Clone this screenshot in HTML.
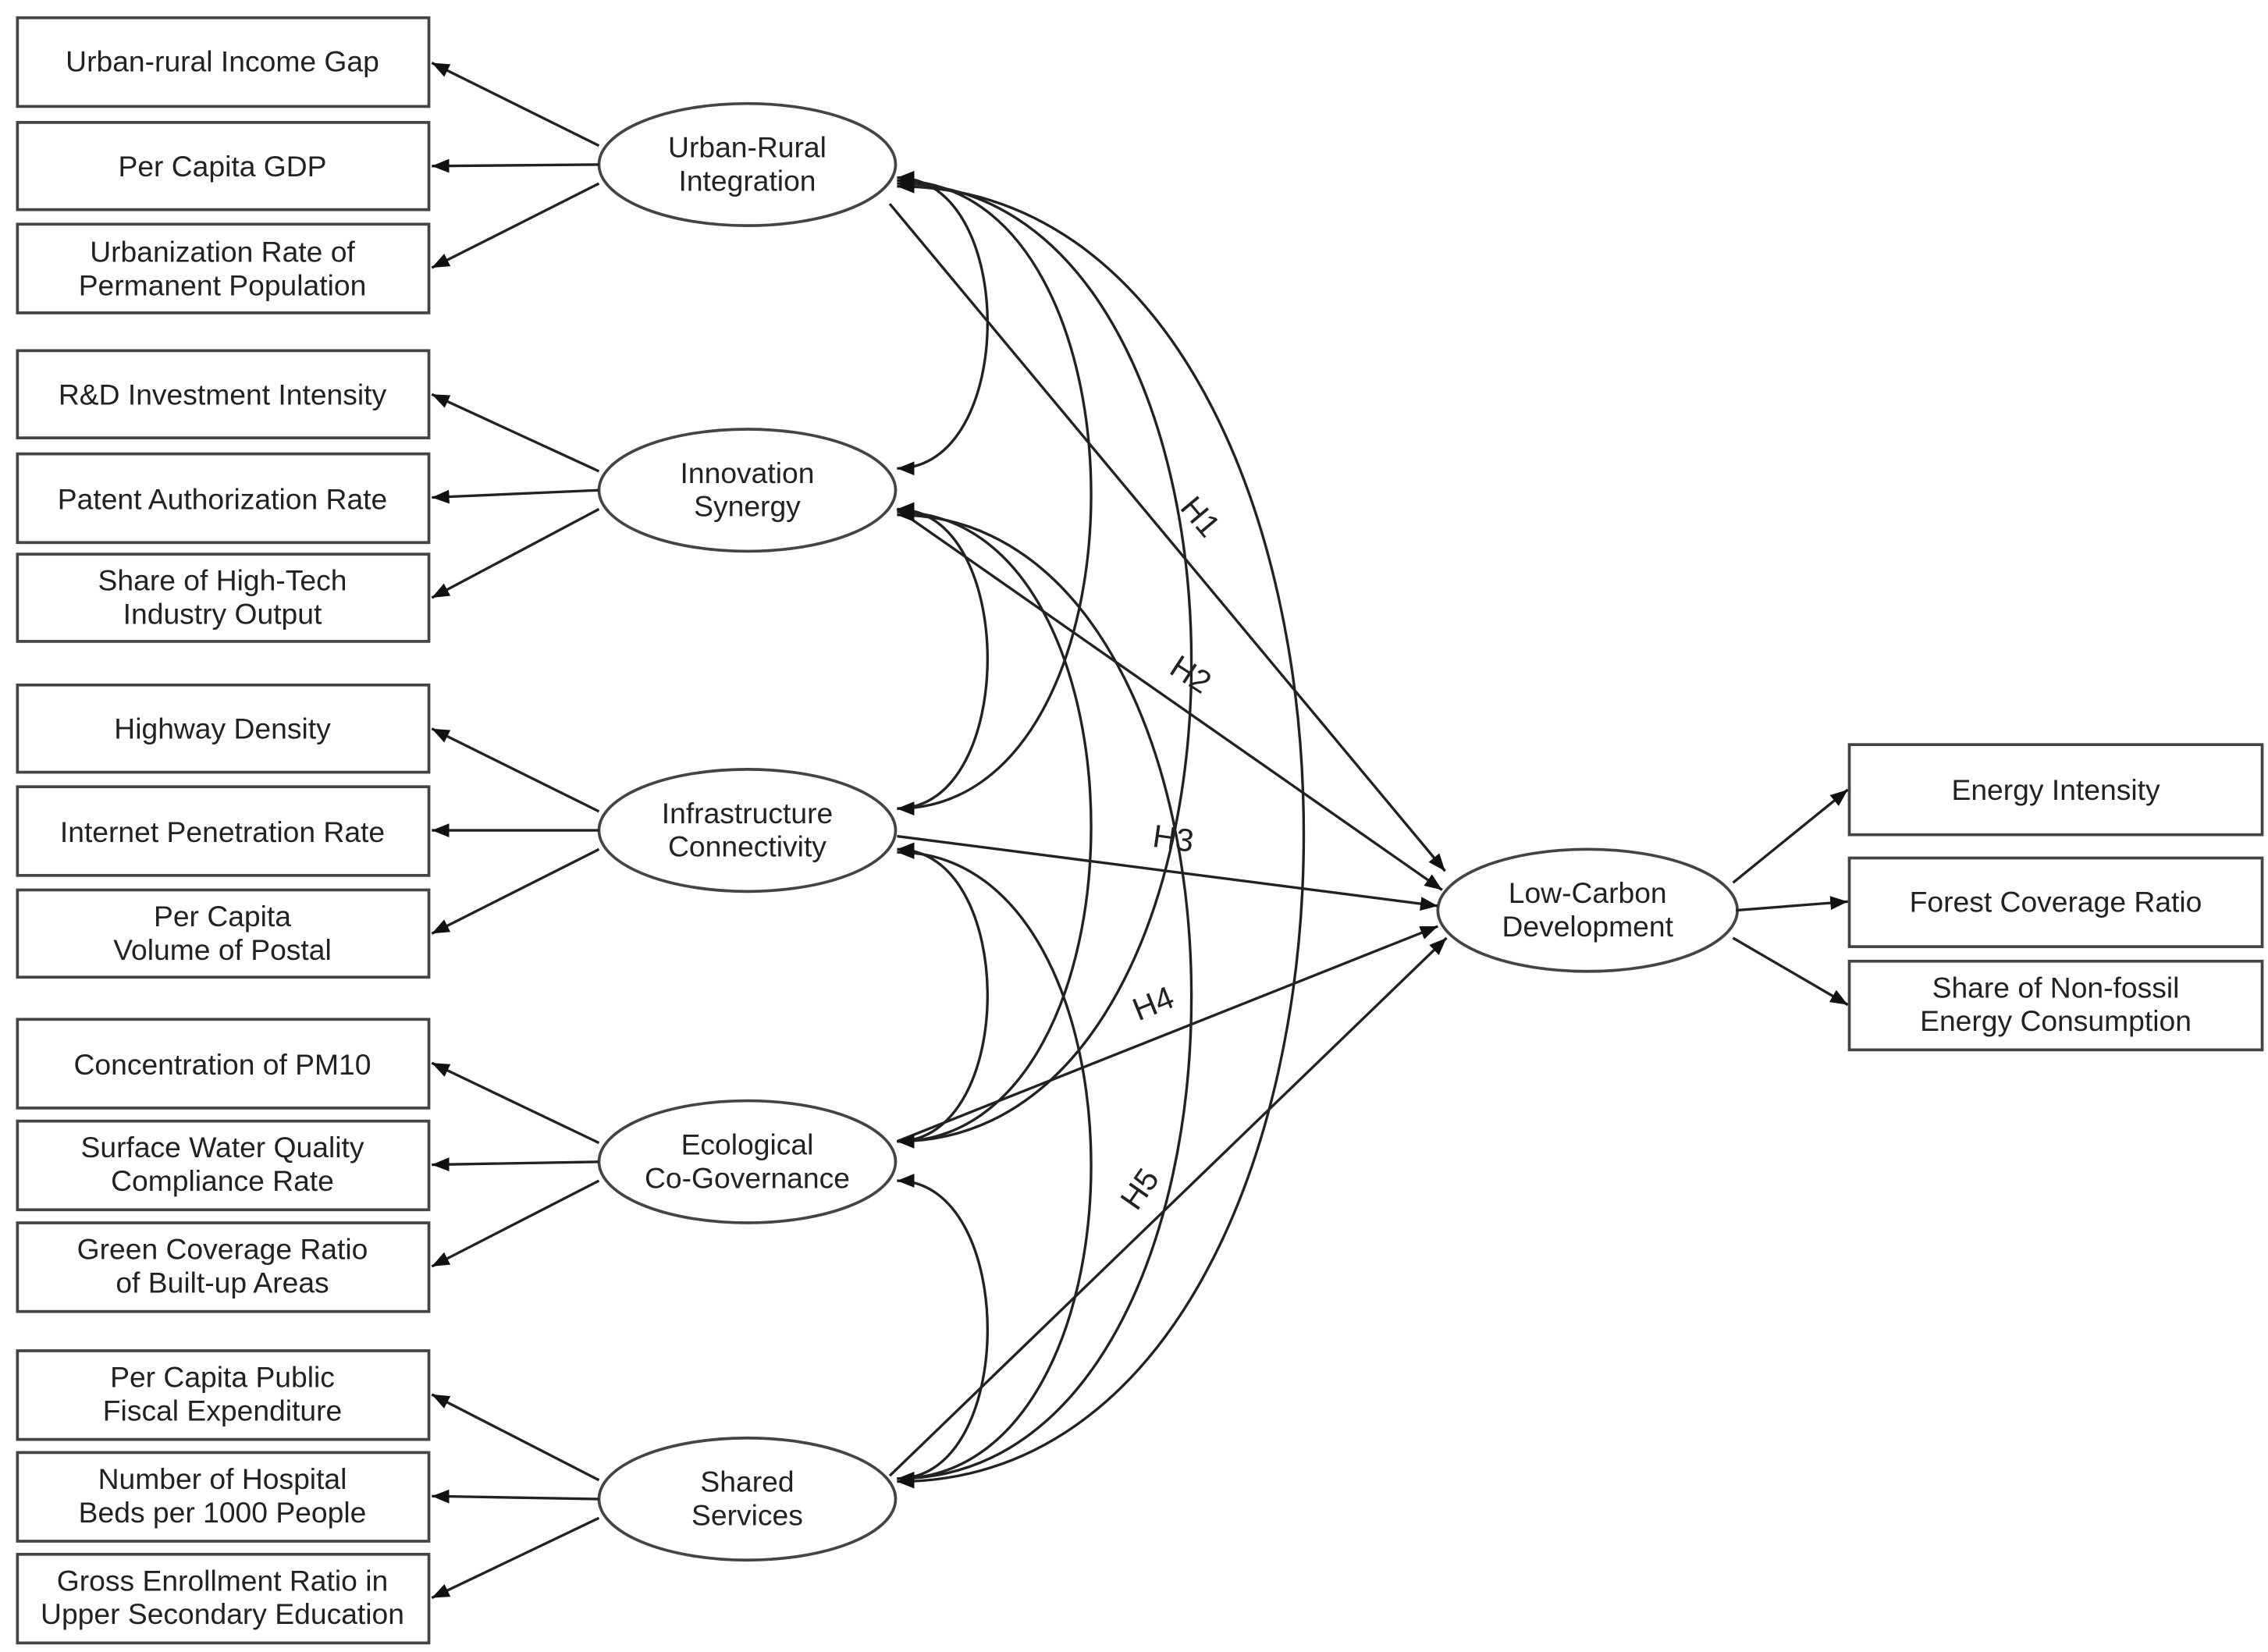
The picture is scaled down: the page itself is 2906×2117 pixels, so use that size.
<!DOCTYPE html>
<html><head><meta charset="utf-8"><style>
html,body{margin:0;padding:0;background:#fff;}
svg{display:block;}
text{font-family:"Liberation Sans",Arial,sans-serif;font-size:20px;fill:#222;text-anchor:middle;}
.h{font-size:22px;}
</style></head><body>
<svg width="2906" height="2117" viewBox="0 0 1560 1136" xmlns="http://www.w3.org/2000/svg">
<defs>
<marker id="a" viewBox="0 0 10 10" refX="10" refY="5" markerWidth="12" markerHeight="12" markerUnits="userSpaceOnUse" orient="auto-start-reverse"><path d="M0,1 L10,5 L0,9 z" fill="#111"/></marker>
</defs>
<g fill="#fff" stroke="#444" stroke-width="2">
<rect x="12" y="12" width="283" height="61"/>
<rect x="12" y="84" width="283" height="60"/>
<rect x="12" y="154" width="283" height="61"/>
<rect x="12" y="241" width="283" height="60"/>
<rect x="12" y="312" width="283" height="61"/>
<rect x="12" y="381" width="283" height="60"/>
<rect x="12" y="471" width="283" height="60"/>
<rect x="12" y="541" width="283" height="61"/>
<rect x="12" y="612" width="283" height="60"/>
<rect x="12" y="701" width="283" height="61"/>
<rect x="12" y="771" width="283" height="61"/>
<rect x="12" y="841" width="283" height="61"/>
<rect x="12" y="929" width="283" height="61"/>
<rect x="12" y="999" width="283" height="61"/>
<rect x="12" y="1069" width="283" height="61"/>
<rect x="1272" y="512" width="284" height="62"/>
<rect x="1272" y="590" width="284" height="61"/>
<rect x="1272" y="661" width="284" height="61"/>
<ellipse cx="514" cy="113" rx="102" ry="42"/>
<ellipse cx="514" cy="337" rx="102" ry="42"/>
<ellipse cx="514" cy="571" rx="102" ry="42"/>
<ellipse cx="514" cy="799" rx="102" ry="42"/>
<ellipse cx="514" cy="1031" rx="102" ry="42"/>
<ellipse cx="1092" cy="626" rx="103" ry="42"/>
</g>
<g stroke="#222" stroke-width="1.8" fill="none" marker-end="url(#a)">
<line x1="412" y1="100" x2="297" y2="43"/>
<line x1="412" y1="113" x2="297" y2="114"/>
<line x1="412" y1="126" x2="297" y2="184"/>
<line x1="412" y1="324" x2="297" y2="271"/>
<line x1="412" y1="337" x2="297" y2="342"/>
<line x1="412" y1="350" x2="297" y2="411"/>
<line x1="412" y1="558" x2="297" y2="501"/>
<line x1="412" y1="571" x2="297" y2="571"/>
<line x1="412" y1="584" x2="297" y2="642"/>
<line x1="412" y1="786" x2="297" y2="731"/>
<line x1="412" y1="799" x2="297" y2="801"/>
<line x1="412" y1="812" x2="297" y2="871"/>
<line x1="412" y1="1018" x2="297" y2="959"/>
<line x1="412" y1="1031" x2="297" y2="1029"/>
<line x1="412" y1="1044" x2="297" y2="1099"/>
<line x1="1192" y1="607" x2="1271" y2="543"/>
<line x1="1194" y1="626" x2="1271" y2="620"/>
<line x1="1192" y1="645" x2="1271" y2="691"/>
<line x1="612" y1="140" x2="994" y2="599"/>
<line x1="617" y1="350" x2="992" y2="612"/>
<line x1="617" y1="575" x2="989" y2="623"/>
<line x1="617" y1="785" x2="989" y2="637"/>
<line x1="612" y1="1015" x2="995" y2="645"/>
</g>
<g stroke="#222" stroke-width="1.8" fill="none" marker-start="url(#a)" marker-end="url(#a)">
<path d="M617,122 C700,122 700,322 617,322"/>
<path d="M617,350 C700,350 700,556 617,556"/>
<path d="M617,584 C700,584 700,785 617,785"/>
<path d="M617,812 C700,812 700,1017 617,1017"/>
<path d="M617,124 C795,124 795,556 617,556"/>
<path d="M617,352 C795,352 795,785 617,785"/>
<path d="M617,586 C795,586 795,1017 617,1017"/>
<path d="M617,126 C887,126 887,785 617,785"/>
<path d="M617,354 C887,354 887,1017 617,1017"/>
<path d="M617,128 C990,128 990,1019 617,1019"/>
</g>
<g>
<text x="153" y="49">Urban-rural Income Gap</text>
<text x="153" y="121">Per Capita GDP</text>
<text x="153" y="180">Urbanization Rate of</text>
<text x="153" y="203">Permanent Population</text>
<text x="153" y="278">R&amp;D Investment Intensity</text>
<text x="153" y="350">Patent Authorization Rate</text>
<text x="153" y="406">Share of High-Tech</text>
<text x="153" y="429">Industry Output</text>
<text x="153" y="508">Highway Density</text>
<text x="153" y="579">Internet Penetration Rate</text>
<text x="153" y="637">Per Capita</text>
<text x="153" y="660">Volume of Postal</text>
<text x="153" y="739">Concentration of PM10</text>
<text x="153" y="796">Surface Water Quality</text>
<text x="153" y="819">Compliance Rate</text>
<text x="153" y="866">Green Coverage Ratio</text>
<text x="153" y="889">of Built-up Areas</text>
<text x="153" y="954">Per Capita Public</text>
<text x="153" y="977">Fiscal Expenditure</text>
<text x="153" y="1024">Number of Hospital</text>
<text x="153" y="1047">Beds per 1000 People</text>
<text x="153" y="1094">Gross Enrollment Ratio in</text>
<text x="153" y="1117">Upper Secondary Education</text>
<text x="1414" y="550">Energy Intensity</text>
<text x="1414" y="627">Forest Coverage Ratio</text>
<text x="1414" y="686">Share of Non-fossil</text>
<text x="1414" y="709">Energy Consumption</text>
<text x="514" y="108">Urban-Rural</text>
<text x="514" y="131">Integration</text>
<text x="514" y="332">Innovation</text>
<text x="514" y="355">Synergy</text>
<text x="514" y="566">Infrastructure</text>
<text x="514" y="589">Connectivity</text>
<text x="514" y="794">Ecological</text>
<text x="514" y="817">Co-Governance</text>
<text x="514" y="1026">Shared</text>
<text x="514" y="1049">Services</text>
<text x="1092" y="621">Low-Carbon</text>
<text x="1092" y="644">Development</text>
<text class="h" transform="translate(820,360) rotate(50)">H1</text>
<text class="h" transform="translate(815,470) rotate(33)">H2</text>
<text class="h" transform="translate(806,584) rotate(8)">H3</text>
<text class="h" transform="translate(796,697) rotate(-22)">H4</text>
<text class="h" transform="translate(790,822) rotate(-55)">H5</text>
</g>
</svg>
</body></html>
